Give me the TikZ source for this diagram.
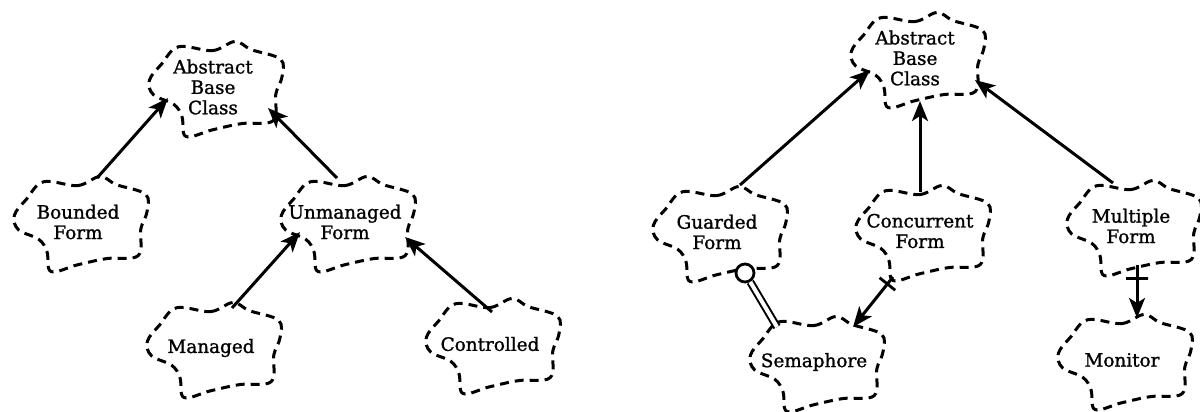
\documentclass[tikz,border=0pt]{standalone}
\usepackage{fontspec}
\setmainfont{DejaVu Serif}
\newfontfamily\clsfont{DejaVu Serif}[FakeBold=1.2]
\usetikzlibrary{arrows.meta,calc}
\newcommand\drawcloud[1]{%
  \begin{scope}[shift={($(#1)+(3,2)$)},xscale=68,yscale=48]
    \draw[cloudline] plot[smooth cycle,tension=0.6] coordinates {
      (-0.55,-0.88) (-0.05,-0.80) (0.28,-0.99) (0.52,-0.82) (0.95,-0.62)
      (0.97,-0.25) (0.88,0.10) (0.84,0.66) (0.38,0.72) (-0.05,0.85)
      (-0.44,0.99) (-0.50,0.58) (-0.62,0.32) (-0.92,0.12) (-0.98,-0.18)
      (-0.80,-0.52)};
  \end{scope}}
\begin{document}
\begin{tikzpicture}[x=0.5pt,y=-0.5pt,
  cls/.style={align=center,font=\clsfont\fontsize{9.2}{10.2}\selectfont,inner sep=0pt},
  cloudline/.style={line width=1.5pt,dash pattern=on 4.5pt off 3pt},
  inh/.style={line width=1.5pt,-{Stealth[length=10pt,width=8pt,inset=2.5pt]}},
  tickmark/.style={draw,line width=1.4pt,sloped,inner sep=0pt,minimum width=0pt,minimum height=#1},
  aggr/.style={line width=1pt,double distance=2pt},
  aggend/.style={circle,draw,line width=1.4pt,fill=white,minimum size=9pt,inner sep=0pt}]
\useasboundingbox (0,0) rectangle (1200,412);

% left diagram
\node[cls] (abcL) at (213,87) {Abstract\\Base\\Class};
\node[cls] (bf) at (78,222) {Bounded\\Form};
\node[cls] (um) at (345,222) {Unmanaged\\Form};
\node[cls] (mg) at (211,348) {Managed};
\node[cls] (ct) at (490,344) {Controlled};

% right diagram
\node[cls] (abcR) at (915,58) {Abstract\\Base\\Class};
\node[cls] (gd) at (717,232) {Guarded\\Form};
\node[cls] (cc) at (920,231) {Concurrent\\Form};
\node[cls] (mf) at (1131,226) {Multiple\\Form};
\node[cls] (sm) at (814,362) {Semaphore};
\node[cls] (mo) at (1122,360) {Monitor};

\foreach \n in {abcL,bf,um,mg,ct,abcR,gd,cc,mf,sm,mo}{\drawcloud{\n}}

% left connectors
\draw[inh] ($(bf)+(19,-44)$) -- ($(abcL)+(-45,11)$);
\draw[inh] ($(um)+(-8,-44)$) -- ($(abcL)+(55,21)$);
\draw[inh] ($(mg)+(21,-40)$) -- ($(um)+(-45,10)$);
\draw[inh] ($(ct)+(2,-32)$) -- ($(um)+(60,15)$);

% right connectors
\draw[inh] ($(gd)+(23,-47)$) -- ($(abcR)+(-45,12)$);
\draw[inh] ($(cc)+(0,-39)$) -- ($(abcR)+(5,43)$);
\draw[inh] ($(mf)+(-18,-43)$) -- ($(abcR)+(60,22)$);
\draw[inh] ($(cc)+(-27,46)$) -- node[tickmark=10pt,pos=0.14]{} ($(sm)+(39,-35)$);
\draw[inh] ($(mf)+(6,39)$) -- node[tickmark=11pt,pos=0.25]{} ($(mo)+(15,-42)$);

\node[aggend] (agg) at ($(gd)+(28,41)$) {};
\draw[aggr] ($(sm)+(-37,-35)$) -- (agg);
\end{tikzpicture}
\end{document}
